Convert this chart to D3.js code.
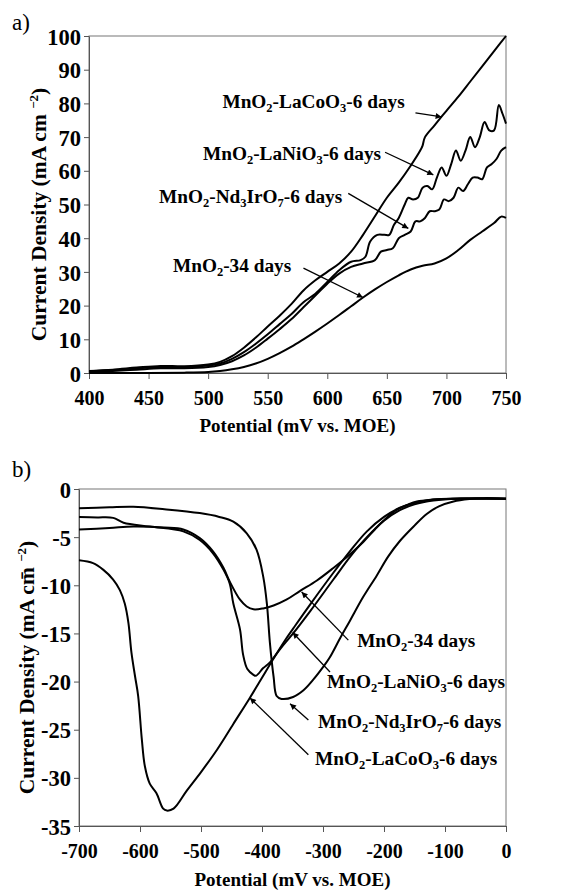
<!DOCTYPE html>
<html>
<head>
<meta charset="utf-8">
<script src="https://cdn.jsdelivr.net/npm/d3@7"></script>
<style>
body{margin:0;background:#fff}
svg{display:block;font-family:"Liberation Serif","Times New Roman",serif}
</style>
</head>
<body>
<div class="chart"></div>
<script>
// panel a) anodic sweep  [potential mV, current mA cm-2]
let aLaCoO3=[[400,0.6],[420,1.0],[440,1.6],[460,2.1],[480,2.0],[500,2.5],[510,3.3],[520,5],[530,7.5],[540,10.5],[550,13.8],[560,17],[570,20.5],[580,24.5],[590,27.5],[600,30],[610,32.5],[620,36],[630,41],[640,46.5],[650,52],[660,56.5],[670,61.5],[678,66],[680,67.5],[682,70],[690,73.5],[700,77.8],[710,82],[720,86.5],[730,91],[740,95.5],[750,100]]
let aLaNiO3=[[400,0.5],[420,0.9],[440,1.4],[460,1.8],[480,1.7],[500,2.2],[510,2.8],[520,4.2],[530,6.2],[540,8.7],[550,11.5],[560,14.5],[570,17.5],[580,21],[590,23.5],[600,27],[610,30.5],[620,33],[628,33.5],[632,34.5],[636,39],[642,41],[648,41],[652,41],[656,44],[660,46],[665,50],[668,52],[672,51.5],[676,52],[680,55],[684,55.5],[688,54.5],[692,58],[696,61],[700,58.5],[704,62],[708,66],[712,63],[716,66],[720,70],[724,67],[728,70],[732,74.5],[736,72],[740,72],[744,79.5],[747,77],[750,74]]
let aNd3IrO7=[[400,0.3],[420,0.6],[440,1.0],[460,1.4],[480,1.4],[500,1.8],[510,2.4],[520,3.5],[530,5.2],[540,7.5],[550,10.2],[560,13],[570,16],[580,19.5],[590,23],[600,26.5],[610,29.5],[620,31.5],[630,32.5],[640,33.5],[645,36],[650,36.5],[655,37],[660,40],[665,41],[670,42],[674,45],[678,45],[682,46],[686,48],[690,48],[694,48.5],[698,51.5],[702,51],[706,52],[710,55],[714,54],[718,56],[722,58],[726,58],[730,57.5],[734,61],[738,62],[742,63.5],[746,66],[750,67]]
let aMnO2=[[400,0],[450,0],[480,0.1],[500,0.3],[510,0.6],[520,1.1],[530,1.8],[540,2.8],[550,4.2],[560,5.9],[570,7.8],[580,10],[590,12.3],[600,14.7],[610,17.2],[620,19.8],[630,22.4],[640,24.8],[650,27],[660,29],[670,30.7],[680,31.8],[690,32.5],[700,34],[710,36.5],[720,39.5],[730,42],[740,44.5],[746,46.4],[750,46]]

// panel b) cathodic sweep
let bLaCoO3=[[-700,-7.4],[-677,-7.7],[-660,-8.4],[-644,-9.4],[-633,-10.5],[-625,-11.9],[-619,-13.9],[-614,-17],[-608,-19.5],[-603,-21.5],[-597,-26],[-592,-28.8],[-584,-30.6],[-573,-31.6],[-562,-33.2],[-556,-33.4],[-545,-33.2],[-523,-31.3],[-500,-29.4],[-474,-27.1],[-447,-24.4],[-420,-21.7],[-400,-19.6],[-381,-17.6],[-360,-15.5],[-349,-14.5],[-320,-11.9],[-283,-8.7],[-255,-6.4],[-228,-4.4],[-200,-2.9],[-174,-1.95],[-150,-1.45],[-119,-1.1],[-80,-1.0],[0,-1.0]]
let bLaNiO3=[[-700,-2.9],[-670,-2.95],[-644,-3.0],[-627,-3.5],[-584,-3.9],[-529,-4.4],[-502,-5.3],[-480,-6.7],[-463,-8.4],[-453,-9.8],[-447,-11.9],[-436,-14.6],[-431,-17.2],[-424,-18.7],[-414,-19.3],[-410,-19.4],[-398,-18.6],[-387,-18.0],[-370,-16.6],[-349,-15.0],[-320,-12.6],[-283,-9.4],[-255,-7.0],[-228,-5.0],[-200,-3.3],[-174,-2.2],[-150,-1.6],[-119,-1.2],[-80,-1.0],[0,-1.0]]
let bNd3IrO7=[[-700,-2.0],[-650,-1.9],[-611,-1.85],[-560,-2.1],[-502,-2.5],[-470,-2.9],[-447,-3.4],[-425,-4.6],[-409,-6.3],[-398,-9.1],[-392,-11.9],[-387,-16],[-381,-19.5],[-376,-21.5],[-368,-21.8],[-349,-21.6],[-332,-20.9],[-316,-19.8],[-300,-18.5],[-289,-17.5],[-272,-15.5],[-256,-13.7],[-234,-11.2],[-212,-9.0],[-193,-7.0],[-174,-5.4],[-150,-3.8],[-130,-2.6],[-110,-1.8],[-86,-1.3],[-60,-1.05],[-37,-0.95],[0,-1.0]]
let bMnO2=[[-700,-4.2],[-650,-4.05],[-611,-3.9],[-560,-4.0],[-529,-4.2],[-502,-5.1],[-480,-6.5],[-463,-8.2],[-453,-9.6],[-436,-11.5],[-425,-12.2],[-414,-12.5],[-398,-12.4],[-381,-12.1],[-360,-11.5],[-338,-10.6],[-310,-9.5],[-283,-8.2],[-258,-6.9],[-234,-5.5],[-215,-4.2],[-201,-3.3],[-180,-2.2],[-160,-1.6],[-146,-1.3],[-120,-1.1],[-92,-1.0],[-50,-1.0],[0,-1.0]]

let aXTicks=[400,450,500,550,600,650,700,750]
let aYTicks=[0,10,20,30,40,50,60,70,80,90,100]
let bXTicks=[-700,-600,-500,-400,-300,-200,-100,0]
let bYTicks=[0,-5,-10,-15,-20,-25,-30,-35]

// label text pieces, odd entries are subscripts
let nameLaCoO3=['MnO','2','-LaCoO','3','-6 days']
let nameLaNiO3=['MnO','2','-LaNiO','3','-6 days']
let nameNd3IrO7=['MnO','2','-Nd','3','IrO','7','-6 days']
let nameMnO2=['MnO','2','-34 days']

// annotations in data units: label start, arrow tail, arrow tip
let aNotes=[
  {name:nameLaCoO3,at:[512,78.6],from:[674,77.2],to:[696,76]},
  {name:nameLaNiO3,at:[495.7,63.2],from:[648.5,65.5],to:[689,58.8]},
  {name:nameNd3IrO7,at:[458.8,50.4],from:[617.6,53.3],to:[668,42.9]},
  {name:nameMnO2,at:[470.5,30.1],from:[580,31.1],to:[630,22.4]}
]
let bNotes=[
  {name:nameMnO2,at:[-244,-16.4],from:[-258.5,-15.7],to:[-335,-10.7]},
  {name:nameLaNiO3,at:[-293.4,-20.7],from:[-288.5,-19],to:[-349.7,-14.9]},
  {name:nameNd3IrO7,at:[-308,-24.8],from:[-324,-24],to:[-354,-22.3]},
  {name:nameLaCoO3,at:[-313,-28.7],from:[-324,-27.6],to:[-419.7,-21.7]}
]

let w=582, h=890
let svg=d3.select('.chart').append('svg').attr('width',w).attr('height',h)

svg.append('defs').append('marker').attr('id','head')
  .attr('viewBox','0 0 10 10').attr('refX',10).attr('refY',5)
  .attr('markerWidth',7).attr('markerHeight',6).attr('markerUnits','userSpaceOnUse')
  .attr('orient','auto')
  .append('path').attr('d','M0,0L10,5L0,10z').attr('fill','#000')

function panel(o){
  let x=d3.scaleLinear().domain(o.xd).range(o.xr)
  let y=d3.scaleLinear().domain(o.yd).range(o.yr)
  let g=svg.append('g')
  // frame
  g.append('rect').attr('x',o.xr[0]).attr('y',o.yr[1]).attr('width',o.xr[1]-o.xr[0]).attr('height',o.yr[0]-o.yr[1])
    .attr('fill','none').attr('stroke','#777').attr('stroke-width',1)
  let xa=g.append('g').attr('transform','translate(0,'+o.yr[0]+')')
    .call(d3.axisBottom(x).tickValues(o.xt).tickSize(6).tickSizeOuter(0).tickFormat(d3.format('d')))
  xa.selectAll('text').attr('y',o.xlab).attr('dy',null).attr('font-size',20)
  let ya=g.append('g').attr('transform','translate('+o.xr[0]+',0)')
    .call(d3.axisLeft(y).tickValues(o.yt).tickSize(5).tickSizeOuter(0).tickPadding(3).tickFormat(d3.format('d')))
  ya.selectAll('text').attr('dy','0.36em').attr('font-size',22.5)
  g.selectAll('.domain,.tick line').attr('stroke','#555')
  g.selectAll('.tick text').attr('font-family','"Liberation Serif",serif').attr('font-weight','bold').attr('fill','#000')
  g.selectAll('.tick text').text(d=>d<0?'-'+Math.abs(d):d)

  let line=d3.line().x(d=>x(d[0])).y(d=>y(d[1])).curve(d3.curveCatmullRom.alpha(0.5))
  g.selectAll('.curve').data(o.series).enter().append('path').attr('class','curve')
    .attr('d',line).attr('fill','none').attr('stroke','#000').attr('stroke-width',2).attr('stroke-linejoin','round')

  g.selectAll('.arrow').data(o.notes).enter().append('line').attr('class','arrow')
    .attr('x1',d=>x(d.from[0])).attr('y1',d=>y(d.from[1]))
    .attr('x2',d=>x(d.to[0])).attr('y2',d=>y(d.to[1]))
    .attr('stroke','#000').attr('stroke-width',1.3).attr('marker-end','url(#head)')

  let lab=g.selectAll('.lab').data(o.notes).enter().append('text').attr('class','lab')
    .attr('x',d=>x(d.at[0])).attr('y',d=>y(d.at[1]))
    .attr('font-size',19.3).attr('font-weight','bold')
  lab.each(function(d){
    let t=d3.select(this)
    d.name.forEach((s,i)=>{
      let sub=i%2==1
      t.append('tspan').text(s).attr('font-size',sub?12.5:null).attr('dy',sub?4:(i>0?-4:null))
    })
  })

  // axis titles
  g.append('text').attr('x',(o.xr[0]+o.xr[1])/2).attr('y',o.xtitle).attr('text-anchor','middle')
    .attr('font-size',19).attr('font-weight','bold').text('Potential (mV vs. MOE)')
  let yt=g.append('text').attr('transform','translate('+o.ytx+','+((o.yr[0]+o.yr[1])/2+o.ytdy)+') rotate(-90)')
    .attr('text-anchor','middle').attr('font-size',21.5).attr('font-weight','bold')
  yt.append('tspan').text('Current  Density (mA '+o.cm+' ')
  yt.append('tspan').text('\u22122').attr('font-size',13).attr('dy',-8)
  yt.append('tspan').text(')').attr('dy',8)

  svg.append('text').attr('x',o.tag[0]).attr('y',o.tag[1]).attr('font-size',23).text(o.tagText)
}

panel({xd:[400,750],xr:[89,506],yd:[0,100],yr:[373,36],xt:aXTicks,yt:aYTicks,xlab:32,xtitle:432,
  ytx:46,ytdy:10,cm:'cm',series:[aLaCoO3,aLaNiO3,aNd3IrO7,aMnO2],notes:aNotes,tag:[12,30],tagText:'a)'})
panel({xd:[-700,0],xr:[79,506],yd:[-35,0],yr:[826,489],xt:bXTicks,yt:bYTicks,xlab:32,xtitle:886,
  ytx:34,ytdy:10,cm:'cm\u0304',series:[bLaCoO3,bLaNiO3,bNd3IrO7,bMnO2],notes:bNotes,tag:[12,477],tagText:'b)'})
</script>
</body>
</html>
